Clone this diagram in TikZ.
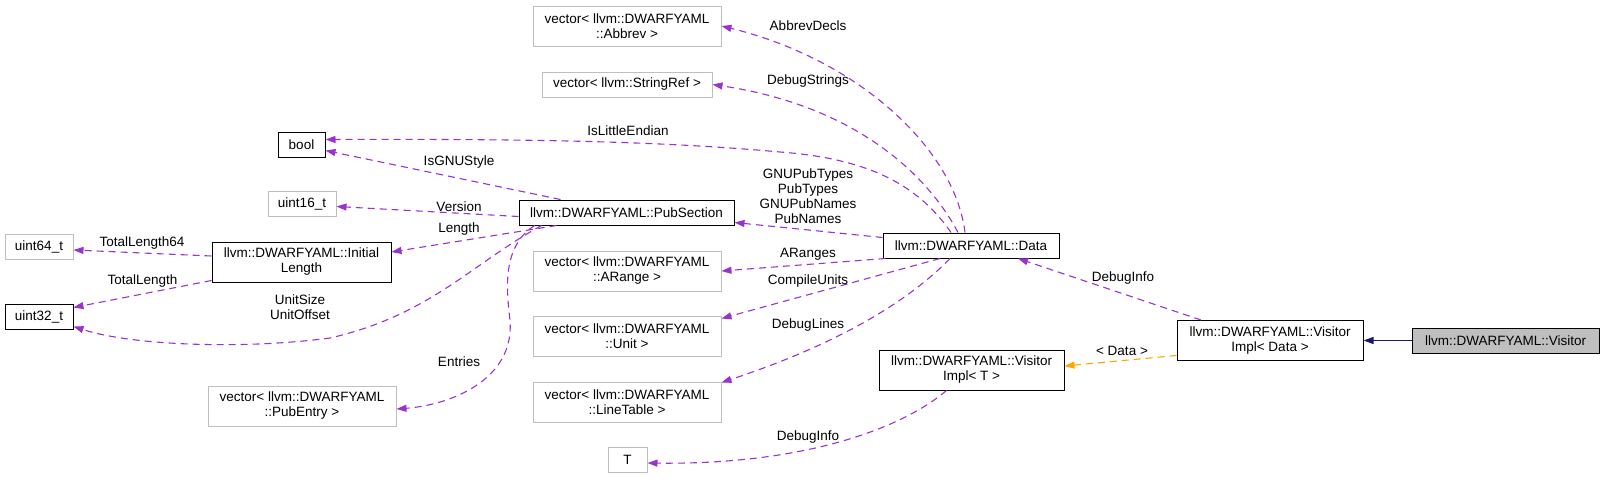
\documentclass[tikz,border=0pt]{standalone}
\usepackage{fontspec}
\setmainfont{Liberation Sans}
\usetikzlibrary{arrows.meta}
\definecolor{memcol}{HTML}{9A32CD}
\definecolor{tplcol}{HTML}{FFA500}
\definecolor{inhcol}{HTML}{191970}
\definecolor{greybox}{HTML}{BFBFBF}
\begin{document}
\begin{tikzpicture}[x=1pt,y=-1pt,font=\fontsize{13.5}{15}\selectfont,
  every node/.style={inner sep=0pt,align=center},
  cls/.style={draw=black,line width=1pt,minimum height=25},
  ext/.style={draw=greybox,line width=1pt,minimum height=25},
  cur/.style={draw=black,fill=greybox,line width=1pt,minimum height=25},
  two/.style={minimum height=40},
  lbl/.style={},
  mem/.style={draw=memcol,line width=1.1pt,dash pattern=on 7pt off 5pt,
    -{Triangle[length=10pt,width=7pt,fill=memcol]}},
  tpl/.style={draw=tplcol,line width=1.1pt,dash pattern=on 7pt off 5pt,
    -{Triangle[length=10pt,width=7pt,fill=tplcol]}},
  inh/.style={draw=inhcol,line width=1.1pt,
    -{Triangle[length=10pt,width=7pt,fill=inhcol]}}]
\useasboundingbox (0,0) rectangle (1603,479);
\node[ext,two,minimum width=188] (abbrev) at (627,26) {vector< llvm::DWARFYAML\\::Abbrev >};
\node[ext,minimum width=170] (strref) at (627,84.5) {vector< llvm::StringRef >};
\node[cls,minimum width=47] (bool) at (301.5,144.5) {bool};
\node[ext,minimum width=68] (u16) at (302,203.5) {uint16\_t};
\node[cls,minimum width=215] (pubsec) at (626.5,212.5) {llvm::DWARFYAML::PubSection};
\node[ext,minimum width=68] (u64) at (39,247) {uint64\_t};
\node[cls,two,minimum width=179] (initlen) at (301.5,262) {llvm::DWARFYAML::Initial\\Length};
\node[cls,minimum width=176] (data) at (971,245.5) {llvm::DWARFYAML::Data};
\node[ext,two,minimum width=188] (arange) at (627,271) {vector< llvm::DWARFYAML\\::ARange >};
\node[cls,minimum width=68] (u32) at (39,316.5) {uint32\_t};
\node[ext,two,minimum width=188] (unit) at (627,336) {vector< llvm::DWARFYAML\\::Unit >};
\node[ext,two,minimum width=188] (linetab) at (627,402) {vector< llvm::DWARFYAML\\::LineTable >};
\node[ext,two,minimum width=188] (pubentry) at (302,406) {vector< llvm::DWARFYAML\\::PubEntry >};
\node[ext,minimum width=39] (T) at (627.5,460) {T};
\node[cls,two,minimum width=185] (implT) at (971.5,370) {llvm::DWARFYAML::Visitor\\Impl< T >};
\node[cls,two,minimum width=186] (implD) at (1270,340.5) {llvm::DWARFYAML::Visitor\\Impl< Data >};
\node[cur,minimum width=187] (visitor) at (1505.5,340.5) {llvm::DWARFYAML::Visitor};

\draw[mem] ([xshift=-6]data.north) .. controls (955,150) and (860,60) .. (abbrev.east);
\draw[mem] ([xshift=-13]data.north) .. controls (925,170) and (850,105) .. (strref.east);
\draw[mem] ([xshift=-20]data.north) .. controls (915,180) and (860,158) .. (780,152)
  .. controls (650,140) and (500,139) .. ([yshift=5]bool.east);
\draw[mem] ([xshift=-66]pubsec.north) -- ([yshift=-6]bool.east);
\draw[mem] ([yshift=-4]pubsec.west) -- ([yshift=-3]u16.east);
\draw[mem] ([xshift=-70]pubsec.south) -- ([yshift=10]initlen.east);
\draw[mem] ([xshift=-85]pubsec.south) .. controls (470,265) and (430,315) .. (330,338)
  .. controls (240,350) and (130,345) .. ([yshift=-10]u32.east);
\draw[mem] ([xshift=-92]pubsec.south) .. controls (505,245) and (505,280) .. (510,320)
  .. controls (515,380) and (450,405) .. ([yshift=-3]pubentry.east);
\draw[mem] ([yshift=6]initlen.west) -- ([yshift=-3]u64.east);
\draw[mem] ([yshift=2]initlen.south west) -- ([yshift=9]u32.east);
\draw[mem] ([yshift=8]data.west) -- ([yshift=-10]pubsec.east);
\draw[mem] ([xshift=3]data.south west) -- (arange.east);
\draw[mem] ([xshift=-31]data.south) -- ([yshift=-3]unit.north east);
\draw[mem] ([xshift=-21]data.south) .. controls (900,310) and (820,350) .. ([yshift=-1]linetab.north east);
\draw[mem] ([xshift=-25]implT.south) .. controls (900,430) and (800,465) .. ([yshift=-3]T.east);
\draw[mem] ([xshift=-69]implD.north) -- ([xshift=47]data.south);
\draw[tpl] ([yshift=-15]implD.west) -- ([yshift=4]implT.east);
\draw[inh] (visitor.west) -- (implD.east);

\node[lbl] (lAbbrev) at (808,26) {AbbrevDecls};
\node[lbl] (lStr) at (808,81) {DebugStrings};
\node[lbl] (lLittle) at (628,131) {IsLittleEndian};
\node[lbl] (lGnu) at (459,162) {IsGNUStyle};
\node[lbl] (lPub) at (808,196.5) {GNUPubTypes\\PubTypes\\GNUPubNames\\PubNames};
\node[lbl] (lVer) at (459,207) {Version};
\node[lbl] (lLen) at (459,229) {Length};
\node[lbl] (lAr) at (808,254) {ARanges};
\node[lbl] (lCu) at (808,281) {CompileUnits};
\node[lbl] (lDl) at (808,325) {DebugLines};
\node[lbl] (lDiT) at (808,437) {DebugInfo};
\node[lbl] (lDiD) at (1123,278) {DebugInfo};
\node[lbl] (lTpl) at (1122,351) {< Data >};
\node[lbl] (lTl64) at (142,243) {TotalLength64};
\node[lbl] (lTl) at (142.5,281) {TotalLength};
\node[lbl] (lUnit) at (300,307.5) {UnitSize\\UnitOffset};
\node[lbl] (lEnt) at (459,362) {Entries};
\end{tikzpicture}
\end{document}
